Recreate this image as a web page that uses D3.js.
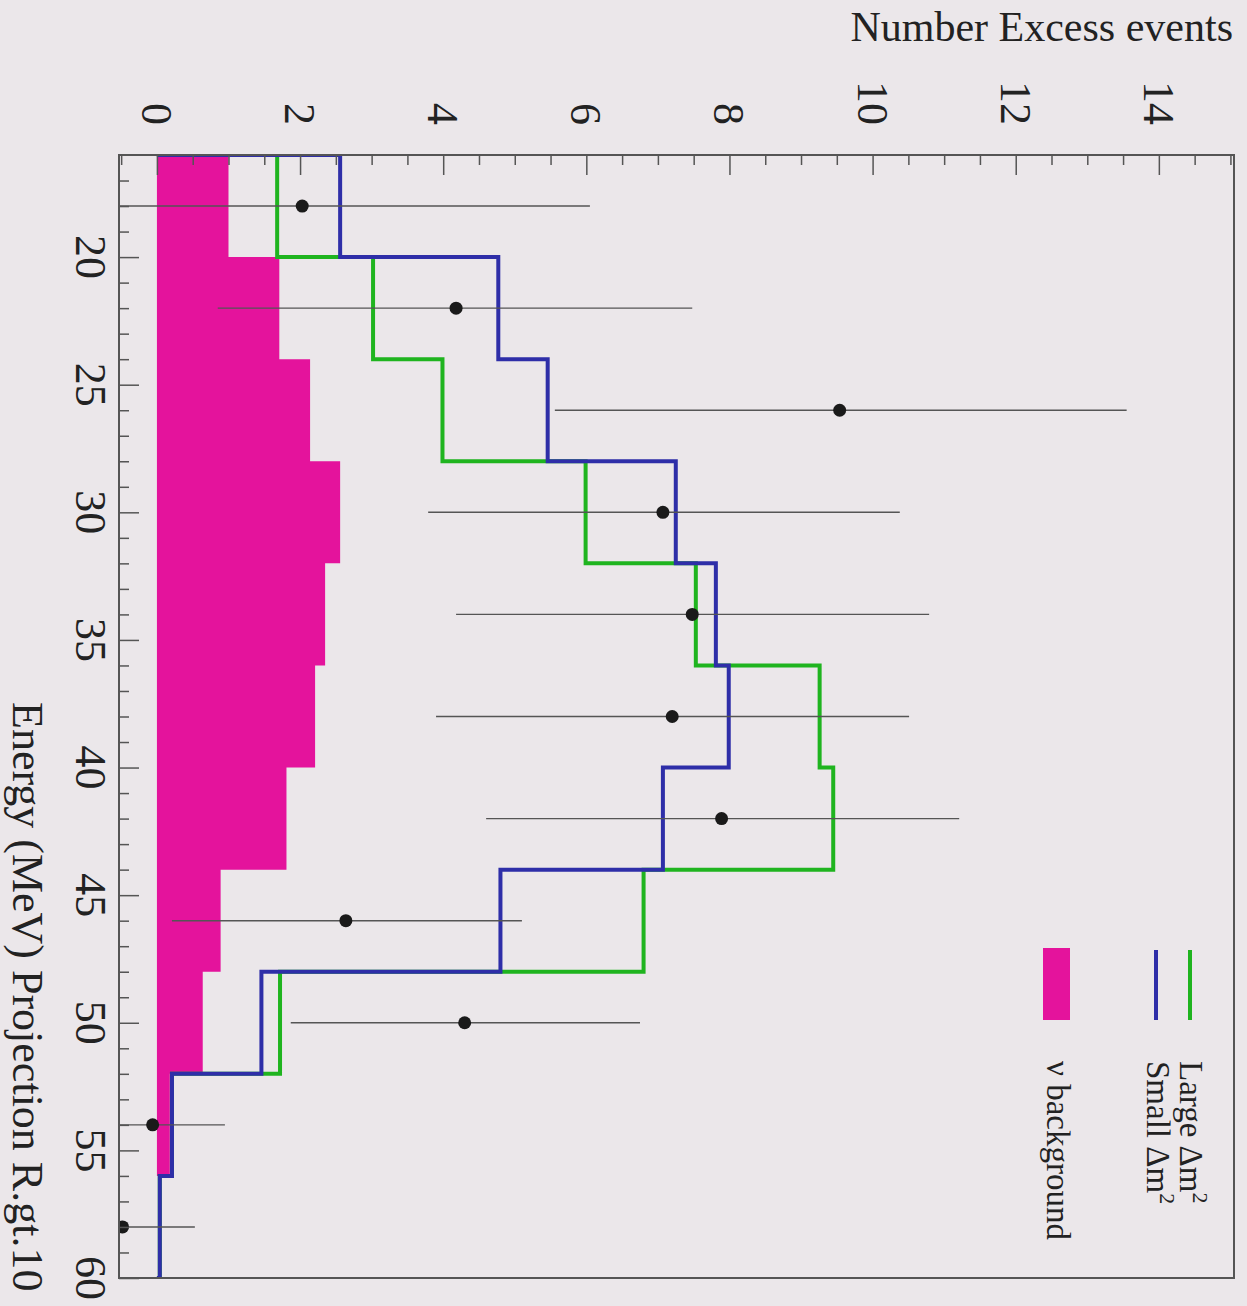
<!DOCTYPE html>
<meta charset="utf-8">
<head>
<style>
body{
	margin:0;
	background:#ebe7ea;
}
text{
	font-family:"Liberation Serif","Times New Roman",serif;
	fill:#222;
}
.tick line{
	stroke:#555;
	stroke-width:1.5px;
}
.frame{
	fill:none;
	stroke:#555;
	stroke-width:2px;
}
.err{
	stroke:#555;
	stroke-width:1.4px;
}
</style>
</head>
<body>
<script src="https://cdn.jsdelivr.net/npm/d3@7"></script>
<script>

// bins of 4 MeV from 16 to 60
var binEdges=[16,20,24,28,32,36,40,44,48,52,56,60];
var binCenters=[18,22,26,30,34,38,42,46,50,54,58];

var background=[1.00,1.71,2.14,2.56,2.35,2.21,1.81,0.89,0.64,0.18,0.00];
var smallDm2=[2.56,4.77,5.46,7.25,7.81,7.99,7.07,4.80,1.46,0.21,0.04];
var largeDm2=[1.68,3.02,3.99,5.99,7.53,9.26,9.45,6.80,1.72,0.21,0.04];

var excess=[2.03,4.18,9.54,7.07,7.48,7.20,7.89,2.64,4.30,-0.06,-0.48];
var errLow=[-2.00,0.85,5.56,3.79,4.18,3.90,4.60,0.21,1.87,-1.06,-1.48];
var errHigh=[6.05,7.48,13.55,10.38,10.79,10.51,11.21,5.10,6.75,0.95,0.53];

var valueLabels=[0,2,4,6,8,10,12,14];
var energyLabels=[20,25,30,35,40,45,50,55,60];

var legendItems=["Large \u0394m","Small \u0394m","\u03bd background"];

var W=1247,H=1306;
var pL=119,pR=1234,pT=155,pB=1278;

var svg=d3.select("body").append("svg").attr("width",W).attr("height",H);

// the plot is turned a quarter: energy runs down, events run right
var e=d3.scaleLinear().domain([16,60]).range([pT,pB]);
var v=d3.scaleLinear().domain([-0.53,15.05]).range([pL,pR]);

svg.append("clipPath").attr("id","clip")
	.append("rect").attr("x",pL).attr("y",pT).attr("width",pR-pL).attr("height",pB-pT);

var plot=svg.append("g").attr("clip-path","url(#clip)");

function steps(vals){
	var pts=[[0,binEdges[0]]];
	vals.forEach(function(d,i){
		pts.push([d,binEdges[i]]);
		pts.push([d,binEdges[i+1]]);
	});
	pts.push([0,binEdges[binEdges.length-1]]);
	return pts;
}

var line=d3.line().x(d=>v(d[0])).y(d=>e(d[1]));
var area=d3.area().y(d=>e(d[1])).x0(v(0)).x1(d=>v(d[0]));

plot.append("path").datum(steps(background))
	.attr("d",area).attr("fill","#e4139c");

plot.append("path").datum(steps(largeDm2))
	.attr("d",line).attr("fill","none").attr("stroke","#1fb41f").attr("stroke-width",4);

plot.append("path").datum(steps(smallDm2))
	.attr("d",line).attr("fill","none").attr("stroke","#2e2ea8").attr("stroke-width",4);

plot.selectAll(".err").data(binCenters).enter().append("line").attr("class","err")
	.attr("y1",d=>e(d)).attr("y2",d=>e(d))
	.attr("x1",(d,i)=>v(errLow[i])).attr("x2",(d,i)=>v(errHigh[i]));

plot.selectAll(".pt").data(binCenters).enter().append("circle").attr("class","pt")
	.attr("cy",d=>e(d)).attr("cx",(d,i)=>v(excess[i]))
	.attr("r",6.5).attr("fill","#1a1a1a");

// axes: ticks on the top and left edges only, pointing inward
var minorV=d3.range(-0.5,15.01,0.5).filter(d=>d%2!=0);
svg.append("g").attr("transform","translate(0,"+pT+")")
	.call(d3.axisBottom(v).tickValues(minorV).tickSize(10).tickFormat(""))
	.call(g=>g.select(".domain").remove());
svg.append("g").attr("transform","translate(0,"+pT+")")
	.call(d3.axisBottom(v).tickValues(valueLabels).tickSize(20).tickFormat(""))
	.call(g=>g.select(".domain").remove());

var minorE=d3.range(17,60,1).filter(d=>d%5!=0);
svg.append("g").attr("transform","translate("+pL+",0)")
	.call(d3.axisRight(e).tickValues(minorE).tickSize(10).tickFormat(""))
	.call(g=>g.select(".domain").remove());
svg.append("g").attr("transform","translate("+pL+",0)")
	.call(d3.axisRight(e).tickValues(energyLabels).tickSize(20).tickFormat(""))
	.call(g=>g.select(".domain").remove());

svg.append("rect").attr("class","frame")
	.attr("x",pL).attr("y",pT).attr("width",pR-pL).attr("height",pB-pT);

svg.selectAll(".vlab").data(valueLabels).enter().append("text")
	.attr("transform",d=>"translate("+(v(d)-15)+",125) rotate(90)")
	.attr("text-anchor","end").style("font-size","44px").text(d=>d);

svg.selectAll(".elab").data(energyLabels).enter().append("text")
	.attr("transform",d=>"translate(76,"+e(d)+") rotate(90)")
	.attr("text-anchor","middle").style("font-size","44px").text(d=>d);

svg.append("text").attr("x",1233).attr("y",41).attr("text-anchor","end")
	.style("font-size","42px").text("Number Excess events");

svg.append("text").attr("transform","translate(13,702) rotate(90)")
	.style("font-size","44px").text("Energy (MeV) Projection R.gt.10");

// legend
svg.append("line").attr("x1",1190).attr("x2",1190).attr("y1",950).attr("y2",1020)
	.attr("stroke","#1fb41f").attr("stroke-width",4);
svg.append("line").attr("x1",1156).attr("x2",1156).attr("y1",950).attr("y2",1020)
	.attr("stroke","#2e2ea8").attr("stroke-width",4);
svg.append("rect").attr("x",1043).attr("y",948).attr("width",27).attr("height",72)
	.attr("fill","#e4139c");

var lx=[1180,1147,1047];
legendItems.forEach(function(t,i){
	var tx=svg.append("text").attr("transform","translate("+lx[i]+",1061) rotate(90)")
		.style("font-size","33px").text(t);
	if(i<2) tx.append("tspan").attr("dy",-13).style("font-size","22px").text("2");
});

</script>
</body>
</html>
